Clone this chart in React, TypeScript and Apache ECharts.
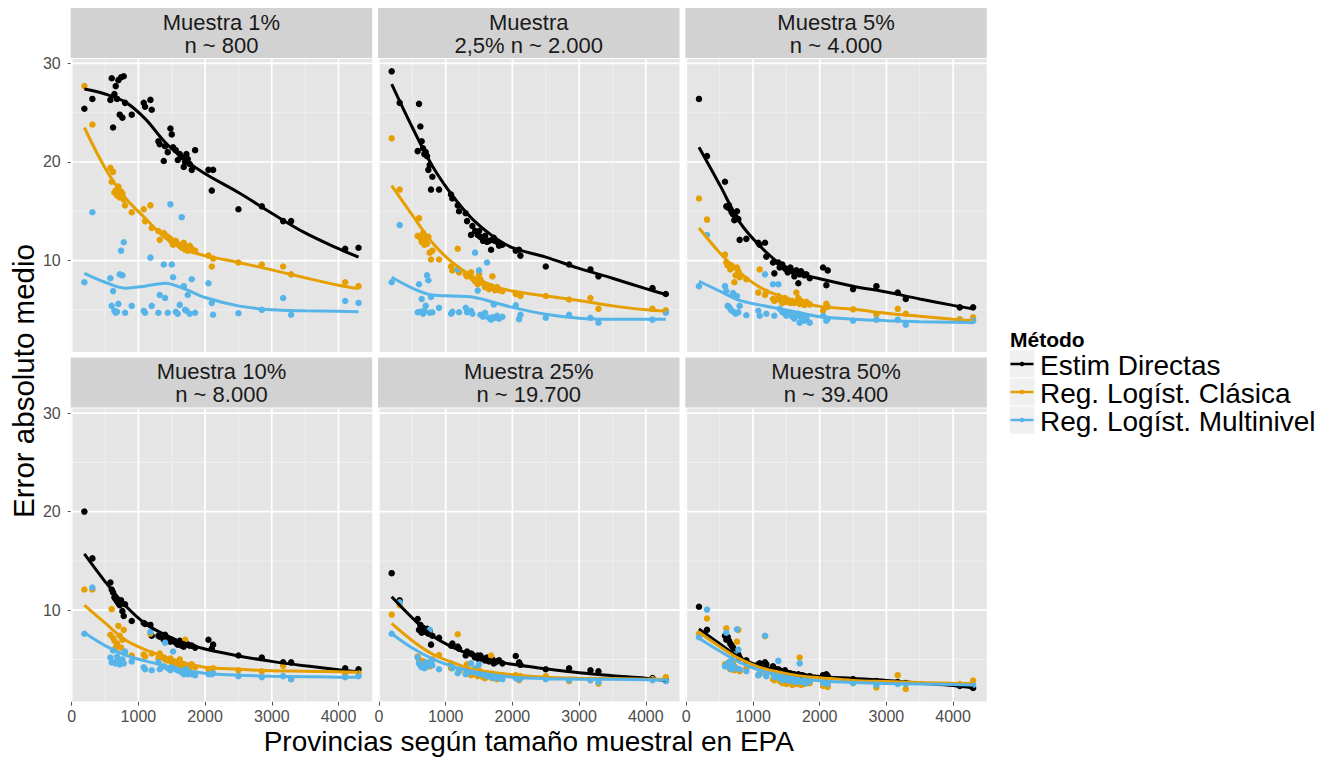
import React, { useEffect, useRef } from "react";
import * as echarts from "echarts";

// ---------- data ----------
const PROV_X = [190, 310, 580, 600, 620, 640, 660, 680, 700, 720, 740, 760, 780, 800, 900, 1080, 1100, 1180, 1200, 1300, 1320, 1380, 1400, 1440, 1480, 1500, 1520, 1560, 1590, 1620, 1650, 1680, 1700, 1720, 1740, 1770, 1800, 1850, 2050, 2100, 2120, 2500, 2850, 3170, 3290, 4100, 4300];

const PANEL_TITLES = ["Muestra 1%\nn ~ 800", "Muestra\n2,5% n ~ 2.000", "Muestra 5%\nn ~ 4.000", "Muestra 10%\nn ~ 8.000", "Muestra 25%\nn ~ 19.700", "Muestra 50%\nn ~ 39.400"];
const METHODS = ["Estim Directas", "Reg. Logíst. Clásica", "Reg. Logíst. Multinivel"];
const COLORS = ["#000000", "#E69F00", "#56B4E9"];

const P1_DIR = [25.4, 26.4, 26.3, 28.5, 23.5, 26.9, 27.7, 26.4, 28.3, 24.8, 28.6, 24.5, 28.7, 26.0, 24.8, 26.0, 25.6, 26.3, 25.3, 22.1, 21.8, 20.1, 21.6, 21.0, 23.4, 22.8, 21.5, 21.2, 20.2, 20.8, 20.5, 19.5, 20.0, 20.8, 20.3, 19.8, 19.2, 21.2, 19.2, 17.1, 19.2, 15.2, 15.5, 14.0, 14.0, 11.2, 11.3];
const P1_CLA = [27.7, 23.8, 19.4, 18.0, 19.0, 16.9, 17.1, 16.6, 17.5, 16.4, 17.0, 16.8, 16.2, 15.6, 14.9, 15.2, 14.0, 15.6, 13.3, 13.0, 12.1, 12.8, 12.6, 12.4, 12.2, 11.9, 11.6, 12.0, 11.7, 11.5, 11.3, 11.8, 11.1, 11.4, 11.0, 11.5, 11.2, 11.0, 10.5, 9.4, 10.2, 9.8, 9.6, 9.4, 8.6, 7.8, 7.4];
const P1_MUL = [7.8, 14.9, 8.2, 5.4, 6.9, 4.9, 4.7, 4.8, 5.6, 8.6, 11.0, 8.5, 11.85, 4.7, 5.4, 4.9, 4.7, 10.3, 5.4, 4.7, 6.5, 9.6, 6.2, 4.7, 15.7, 9.6, 8.3, 4.8, 4.6, 5.5, 14.4, 7.4, 5.0, 4.9, 6.5, 4.6, 8.1, 4.7, 7.7, 5.7, 4.5, 4.65, 5.0, 6.2, 4.5, 5.9, 5.7];

const P2_DIR = [29.2, 26.0, 21.1, 25.9, 23.6, 22.1, 21.4, 20.8, 21.0, 20.6, 19.2, 19.7, 17.2, 18.5, 17.2, 16.7, 16.3, 15.6, 15.0, 14.8, 14.0, 12.6, 13.5, 13.0, 12.6, 13.0, 12.4, 12.0, 12.5, 11.9, 12.0, 11.1, 12.1, 12.3, 12.0, 11.9, 11.5, 11.6, 11.0, 11.1, 10.5, 9.4, 9.6, 9.1, 8.4, 7.2, 6.6];
const P2_CLA = [22.4, 17.2, 12.5, 14.3, 12.3, 11.9, 12.8, 11.6, 12.2, 11.7, 12.4, 10.8, 10.1, 11.0, 10.1, 9.4, 9.0, 11.2, 8.8, 8.6, 8.4, 8.8, 8.2, 7.9, 7.6, 8.6, 8.1, 7.7, 7.3, 7.5, 7.1, 7.4, 8.4, 7.2, 7.0, 7.3, 7.0, 6.9, 6.6, 6.55, 6.4, 6.4, 6.05, 6.2, 5.1, 5.1, 4.95];
const P2_MUL = [7.8, 13.6, 4.75, 7.6, 4.8, 6.1, 4.6, 4.9, 5.4, 8.5, 8.0, 4.7, 6.3, 4.75, 5.2, 4.6, 4.8, 9.1, 4.75, 5.2, 4.75, 4.9, 4.6, 10.8, 6.95, 9.0, 4.5, 4.3, 4.7, 9.8, 4.2, 4.0, 4.25, 5.55, 4.2, 4.4, 4.1, 4.3, 5.45, 4.05, 4.5, 4.2, 4.5, 4.2, 3.7, 4.0, 4.7];

const P3_DIR = [26.4, 20.6, 18.0, 15.5, 15.4, 15.6, 15.2, 14.9, 14.7, 14.1, 14.4, 15.0, 14.2, 12.1, 12.2, 11.8, 11.6, 11.8, 10.4, 9.8, 8.7, 9.8, 9.3, 9.6, 9.2, 9.1, 8.8, 9.3, 8.9, 8.4, 9.0, 7.7, 8.6, 8.9, 8.7, 8.5, 8.6, 8.2, 9.3, 7.5, 9.0, 7.1, 7.4, 6.75, 6.1, 5.25, 5.25];
const P3_CLA = [16.3, 14.15, 10.6, 9.8, 9.5, 9.6, 9.1, 9.5, 9.3, 7.8, 8.5, 9.3, 8.9, 8.3, 8.1, 6.75, 9.1, 6.5, 6.8, 6.1, 5.9, 6.4, 6.0, 5.7, 6.2, 5.8, 6.0, 5.7, 5.9, 5.7, 6.75, 6.2, 5.6, 5.9, 5.7, 5.5, 5.8, 5.55, 4.9, 5.6, 5.3, 5.05, 4.55, 5.1, 4.6, 4.05, 4.25];
const P3_MUL = [7.4, 12.6, 7.4, 6.9, 5.4, 5.3, 5.1, 4.9, 6.7, 4.75, 4.6, 6.4, 4.75, 5.4, 4.45, 4.9, 4.4, 8.6, 4.6, 7.6, 4.4, 7.6, 5.1, 4.75, 4.6, 4.4, 4.75, 4.6, 4.3, 4.1, 4.4, 4.6, 3.7, 4.3, 4.0, 3.9, 4.2, 3.7, 4.4, 3.9, 4.1, 3.9, 4.0, 4.0, 3.5, 3.9, 3.9];

const P4_DIR = [20.0, 15.25, 12.8, 12.1, 11.8, 11.3, 11.1, 10.9, 10.7, 10.5, 11.0, 9.9, 9.4, 10.6, 8.9, 8.7, 8.6, 8.5, 7.4, 7.4, 7.3, 7.0, 7.5, 7.1, 6.8, 7.0, 6.9, 6.7, 6.5, 6.9, 6.4, 6.3, 6.8, 6.6, 6.5, 6.4, 6.4, 6.2, 7.0, 6.1, 6.5, 5.4, 5.2, 4.7, 4.7, 4.1, 4.0];
const P4_CLA = [12.1, 12.1, 7.5, 10.1, 7.2, 6.9, 6.2, 6.6, 8.4, 7.4, 6.2, 7.0, 8.0, 5.7, 5.4, 5.5, 5.3, 7.6, 5.6, 5.1, 5.6, 5.2, 5.0, 4.9, 5.1, 4.7, 4.8, 4.5, 4.4, 5.0, 4.3, 4.4, 7.0, 4.0, 3.8, 4.2, 4.5, 4.2, 4.0, 3.9, 4.1, 3.9, 3.8, 4.35, 3.0, 3.6, 3.6];
const P4_MUL = [7.6, 12.3, 5.2, 4.7, 5.9, 4.7, 4.6, 5.3, 4.8, 4.5, 4.7, 5.0, 4.6, 5.8, 4.8, 4.2, 4.0, 7.8, 3.9, 4.7, 4.0, 4.3, 6.7, 4.1, 3.9, 4.2, 5.8, 4.0, 3.9, 3.8, 3.7, 3.5, 3.9, 4.0, 3.5, 3.6, 3.5, 3.4, 3.5, 3.5, 3.6, 3.3, 3.2, 3.3, 3.0, 3.2, 3.3];

const P5_DIR = [13.75, 11.0, 9.1, 8.0, 8.5, 7.7, 8.2, 8.0, 7.8, 8.1, 7.6, 7.9, 6.5, 7.4, 7.2, 6.4, 6.6, 6.3, 6.1, 5.4, 5.8, 5.6, 5.5, 5.2, 5.4, 5.0, 5.4, 5.1, 4.9, 5.2, 4.8, 4.9, 5.0, 4.6, 4.7, 4.8, 4.9, 4.6, 5.35, 4.7, 4.45, 4.0, 4.1, 3.9, 3.8, 3.1, 2.85];
const P5_CLA = [9.55, 10.5, 5.3, 5.0, 4.7, 4.5, 4.8, 4.4, 4.3, 4.5, 4.6, 4.3, 4.7, 5.0, 5.45, 4.1, 4.2, 7.55, 3.8, 3.6, 4.5, 3.4, 3.7, 3.5, 3.3, 3.9, 3.4, 3.2, 3.1, 3.4, 3.3, 5.4, 3.1, 3.2, 3.3, 3.0, 3.2, 3.4, 3.4, 2.9, 3.3, 3.3, 2.8, 2.9, 2.55, 3.0, 3.2];
const P5_MUL = [7.6, 10.8, 5.2, 4.6, 4.4, 4.2, 4.3, 4.1, 4.7, 4.3, 4.5, 8.0, 4.8, 4.4, 4.0, 4.6, 4.1, 3.6, 3.9, 3.5, 3.6, 4.6, 3.7, 4.1, 3.6, 4.5, 3.5, 3.6, 3.4, 3.3, 3.5, 3.2, 3.3, 3.2, 3.1, 3.2, 3.1, 3.0, 3.1, 3.0, 3.1, 3.0, 2.9, 2.9, 2.7, 2.9, 2.8];

const P6_DIR = [10.35, 8.0, 7.4, 7.0, 7.3, 6.9, 6.6, 6.4, 6.2, 6.0, 5.7, 5.9, 5.5, 5.2, 4.9, 4.5, 4.6, 4.7, 4.5, 4.3, 4.1, 4.0, 3.9, 3.8, 3.9, 3.7, 3.6, 3.6, 3.5, 3.5, 3.4, 3.5, 3.4, 3.3, 3.4, 3.3, 3.2, 3.3, 3.4, 3.5, 3.3, 3.0, 2.8, 2.7, 2.6, 2.3, 2.1];
const P6_CLA = [7.6, 9.15, 4.5, 8.15, 4.3, 4.7, 4.0, 4.4, 4.6, 3.9, 4.2, 6.8, 8.0, 3.8, 4.1, 3.4, 3.6, 7.35, 3.5, 3.0, 2.9, 3.2, 2.8, 2.6, 2.7, 2.5, 2.9, 2.6, 2.4, 2.7, 2.5, 2.6, 5.2, 2.4, 2.6, 2.5, 2.7, 2.6, 2.3, 2.5, 2.2, 2.6, 2.15, 3.4, 2.0, 2.5, 2.85];
const P6_MUL = [7.25, 10.05, 4.3, 7.7, 4.6, 4.2, 4.8, 4.0, 4.4, 5.5, 4.1, 8.05, 6.0, 4.0, 3.8, 3.4, 3.5, 7.4, 3.3, 3.6, 3.2, 4.85, 3.1, 2.9, 3.0, 3.2, 2.9, 2.8, 3.0, 2.9, 2.7, 2.8, 4.6, 2.8, 2.7, 2.9, 2.6, 2.8, 2.6, 2.7, 2.5, 2.6, 2.4, 2.5, 2.5, 2.4, 2.4];

// smoothed (loess) curves
const SMOOTH_X = [190, 500, 800, 1100, 1400, 1700, 2000, 2500, 3000, 3500, 4000, 4300];
const F1_DIR = [27.4, 26.9, 26.1, 24.4, 22.0, 20.2, 18.8, 16.9, 14.8, 12.8, 11.2, 10.35];
const F1_CLA = [23.5, 19.4, 16.4, 14.3, 12.3, 11.1, 10.5, 9.8, 9.05, 8.25, 7.5, 7.15];
const F1_MUL = [8.7, 7.8, 7.2, 7.4, 7.7, 7.1, 6.25, 5.4, 5.0, 4.9, 4.85, 4.8];
const F2_DIR = [27.9, 23.5, 19.6, 16.6, 14.2, 12.5, 11.3, 10.35, 9.2, 8.2, 7.15, 6.55];
const F2_CLA = [17.6, 14.6, 11.8, 9.8, 8.4, 7.45, 6.9, 6.4, 5.95, 5.4, 5.0, 4.85];
const F2_MUL = [8.3, 7.2, 6.5, 6.4, 6.3, 5.8, 5.25, 4.55, 4.15, 4.05, 4.05, 4.05];
const F3_DIR = [21.5, 17.7, 13.9, 11.5, 9.7, 8.7, 8.15, 7.4, 6.8, 6.1, 5.45, 5.1];
const F3_CLA = [13.3, 10.8, 8.8, 7.3, 6.4, 5.8, 5.35, 5.05, 4.65, 4.35, 4.05, 3.9];
const F3_MUL = [7.9, 6.9, 5.95, 5.5, 5.1, 4.7, 4.3, 4.05, 3.9, 3.8, 3.75, 3.7];
const F4_DIR = [15.7, 12.9, 10.5, 8.65, 7.5, 6.65, 6.05, 5.35, 4.8, 4.35, 3.95, 3.75];
const F4_CLA = [10.5, 8.7, 7.0, 6.0, 5.25, 4.65, 4.2, 4.0, 3.85, 3.8, 3.75, 3.7];
const F4_MUL = [7.7, 6.4, 5.45, 4.85, 4.35, 3.9, 3.6, 3.4, 3.3, 3.25, 3.2, 3.2];
const F5_DIR = [11.35, 9.2, 7.4, 6.25, 5.45, 4.9, 4.5, 4.05, 3.65, 3.35, 3.1, 2.85];
const F5_CLA = [8.65, 6.9, 5.55, 4.7, 4.0, 3.7, 3.45, 3.2, 3.1, 3.05, 3.0, 3.0];
const F5_MUL = [7.6, 6.15, 5.05, 4.3, 3.8, 3.45, 3.2, 3.05, 3.0, 2.98, 2.93, 2.9];
const F6_DIR = [8.1, 6.6, 5.2, 4.35, 3.9, 3.5, 3.27, 3.07, 2.87, 2.6, 2.35, 2.1];
const F6_CLA = [7.75, 6.3, 5.05, 4.2, 3.7, 3.33, 3.15, 2.87, 2.75, 2.65, 2.58, 2.55];
const F6_MUL = [7.15, 5.85, 4.7, 3.9, 3.4, 3.05, 2.83, 2.65, 2.55, 2.5, 2.45, 2.4];

const X_TICKS = [0, 1000, 2000, 3000, 4000];
const X_MINOR = [500, 1500, 2500, 3500];
const Y_TICKS = [10, 20, 30];
const Y_MINOR = [5, 15, 25];

const X_TITLE = "Provincias según tamaño muestral en EPA";
const Y_TITLE = "Error absoluto medio";
const LEGEND_TITLE = "Método";

// ---------- layout ----------
const FONT = '"Liberation Sans", Arial, Helvetica, sans-serif';
const COL_LEFT = [70.7, 378, 685.3];
const ROW_TOP = [59, 408.6];
const PANEL_W = 301.5;
const PANEL_H = 293;
const STRIP_H = 50;
const X_MIN = -15;
const X_MAX = 4505;
const Y_MIN = 0.72;
const Y_MAX = 30.45;
const PANEL_BG = "#e5e5e5";
const STRIP_BG = "#d2d2d2";

export default function App() {
  const ref = useRef<HTMLDivElement>(null);

  useEffect(() => {
    if (!ref.current) return;
    const chart = echarts.init(ref.current, null, { renderer: "svg" });

    const points = [
      [P1_DIR, P1_CLA, P1_MUL],
      [P2_DIR, P2_CLA, P2_MUL],
      [P3_DIR, P3_CLA, P3_MUL],
      [P4_DIR, P4_CLA, P4_MUL],
      [P5_DIR, P5_CLA, P5_MUL],
      [P6_DIR, P6_CLA, P6_MUL],
    ];
    const fits = [
      [F1_DIR, F1_CLA, F1_MUL],
      [F2_DIR, F2_CLA, F2_MUL],
      [F3_DIR, F3_CLA, F3_MUL],
      [F4_DIR, F4_CLA, F4_MUL],
      [F5_DIR, F5_CLA, F5_MUL],
      [F6_DIR, F6_CLA, F6_MUL],
    ];

    // grid-line items: [x, y, kind]  kind 0 x-major, 1 x-minor, 2 y-major, 3 y-minor
    const gridLineData = [
      ...X_MINOR.map((v) => [v, 10, 1]),
      ...Y_MINOR.map((v) => [1000, v, 3]),
      ...X_TICKS.map((v) => [v, 10, 0]),
      ...Y_TICKS.map((v) => [1000, v, 2]),
    ];

    const grids: any[] = [];
    const xAxes: any[] = [];
    const yAxes: any[] = [];
    const series: any[] = [];
    const graphics: any[] = [];

    for (let g = 0; g < 6; g++) {
      const row = Math.floor(g / 3);
      const col = g % 3;
      const left = COL_LEFT[col];
      const top = ROW_TOP[row];
      grids.push({
        left,
        top,
        width: PANEL_W,
        height: PANEL_H,
        show: true,
        backgroundColor: PANEL_BG,
        borderWidth: 0,
      });
      xAxes.push({
        gridIndex: g,
        type: "value",
        min: X_MIN,
        max: X_MAX,
        axisLine: { show: false },
        splitLine: { show: false },
        axisTick: {
          show: row === 1,
          customValues: X_TICKS,
          length: 4,
          lineStyle: { color: "#555555", width: 1 },
        },
        axisLabel: {
          show: row === 1,
          customValues: X_TICKS,
          formatter: (v: number) => String(v),
          color: "#4d4d4d",
          fontSize: 16,
          fontFamily: FONT,
          margin: 7,
        },
      });
      yAxes.push({
        gridIndex: g,
        type: "value",
        min: Y_MIN,
        max: Y_MAX,
        axisLine: { show: false },
        splitLine: { show: false },
        axisTick: {
          show: col === 0,
          customValues: Y_TICKS,
          length: 4,
          lineStyle: { color: "#555555", width: 1 },
        },
        axisLabel: {
          show: col === 0,
          customValues: Y_TICKS,
          formatter: (v: number) => String(v),
          color: "#4d4d4d",
          fontSize: 16,
          fontFamily: FONT,
          margin: 10,
        },
      });

      series.push({
        type: "custom",
        xAxisIndex: g,
        yAxisIndex: g,
        silent: true,
        z: 1,
        data: gridLineData,
        renderItem: (params: any, api: any) => {
          const cs = params.coordSys;
          const kind = api.value(2);
          const p = api.coord([api.value(0), api.value(1)]);
          const major = kind === 0 || kind === 2;
          const style = { stroke: major ? "#ffffff" : "#f2f2f2", lineWidth: major ? 1.7 : 0.8 };
          if (kind < 2) {
            return { type: "line", shape: { x1: p[0], y1: cs.y, x2: p[0], y2: cs.y + cs.height }, style };
          }
          return { type: "line", shape: { x1: cs.x, y1: p[1], x2: cs.x + cs.width, y2: p[1] }, style };
        },
      });

      for (let m = 0; m < 3; m++) {
        series.push({
          name: METHODS[m],
          type: "scatter",
          xAxisIndex: g,
          yAxisIndex: g,
          z: 2,
          symbol: "circle",
          symbolSize: 6.5,
          itemStyle: { color: COLORS[m], opacity: 1 },
          data: PROV_X.map((x, i) => [x, points[g][m][i]]),
        });
      }
      for (let m = 0; m < 3; m++) {
        series.push({
          name: METHODS[m],
          type: "line",
          xAxisIndex: g,
          yAxisIndex: g,
          z: 3,
          smooth: 0.35,
          showSymbol: false,
          symbol: "none",
          lineStyle: { color: COLORS[m], width: 3 },
          data: SMOOTH_X.map((x, i) => [x, fits[g][m][i]]),
        });
      }

      // strip
      graphics.push({
        type: "rect",
        shape: { x: left, y: top - STRIP_H - 1, width: PANEL_W, height: STRIP_H },
        style: { fill: STRIP_BG },
        silent: true,
      });
      graphics.push({
        type: "text",
        x: left + PANEL_W / 2,
        y: top - STRIP_H - 1 + STRIP_H / 2 + 0.5,
        style: {
          text: PANEL_TITLES[g],
          font: `22px ${FONT}`,
          fill: "#1a1a1a",
          align: "center",
          verticalAlign: "middle",
          lineHeight: 23,
        },
        silent: true,
      });
    }

    // axis titles
    graphics.push({
      type: "text",
      x: (COL_LEFT[0] + COL_LEFT[2] + PANEL_W) / 2,
      y: 741,
      style: { text: X_TITLE, font: `28px ${FONT}`, fill: "#000000", align: "center", verticalAlign: "middle" },
      silent: true,
    });
    graphics.push({
      type: "text",
      x: 23,
      y: 381,
      rotation: Math.PI / 2,
      style: { text: Y_TITLE, font: `29.5px ${FONT}`, fill: "#000000", align: "center", verticalAlign: "middle" },
      silent: true,
    });

    // legend
    graphics.push({
      type: "text",
      x: 1010,
      y: 339,
      style: { text: LEGEND_TITLE, font: `bold 21px ${FONT}`, fill: "#000000", align: "left", verticalAlign: "middle" },
      silent: true,
    });
    const LEG_Y = [364, 392, 420];
    for (let m = 0; m < 3; m++) {
      const cy = LEG_Y[m];
      graphics.push({
        type: "rect",
        shape: { x: 1009, y: cy - 14, width: 26, height: 28 },
        style: { fill: "#f0f0f0", stroke: "#ffffff", lineWidth: 1 },
        silent: true,
      });
      graphics.push({
        type: "line",
        shape: { x1: 1010.5, y1: cy, x2: 1033.5, y2: cy },
        style: { stroke: COLORS[m], lineWidth: 2.5 },
        silent: true,
      });
      graphics.push({
        type: "circle",
        shape: { cx: 1022, cy, r: 2.2 },
        style: { fill: COLORS[m] },
        silent: true,
      });
      graphics.push({
        type: "text",
        x: 1040,
        y: cy + 1,
        style: { text: METHODS[m], font: `28px ${FONT}`, fill: "#000000", align: "left", verticalAlign: "middle" },
        silent: true,
      });
    }

    chart.setOption({
      animation: false,
      backgroundColor: "#ffffff",
      grid: grids,
      xAxis: xAxes,
      yAxis: yAxes,
      series,
      graphic: graphics,
    });

    return () => {
      chart.dispose();
    };
  }, []);

  return (
    <div
      ref={ref}
      style={{ position: "fixed", left: 0, top: 0, width: 1334, height: 758, background: "#ffffff" }}
    />
  );
}
